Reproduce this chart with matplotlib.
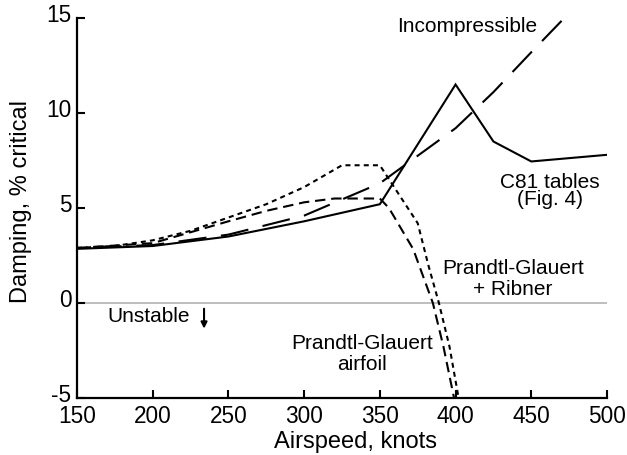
import matplotlib
matplotlib.use("Agg")
import matplotlib.pyplot as plt
from matplotlib.transforms import ScaledTranslation

plt.rcParams['font.family'] = ['Liberation Sans', 'DejaVu Sans']
plt.rcParams['axes.unicode_minus'] = False

# Damping vs airspeed for the four aerodynamic models
c81_x = [150, 200, 250, 300, 350, 400, 425, 450, 500]
c81_y = [2.85, 3.0, 3.5, 4.3, 5.2, 11.5, 8.5, 7.45, 7.8]

incomp_x = [150, 200, 250, 300, 350, 400, 425, 450, 470]
incomp_y = [2.9, 3.05, 3.6, 4.6, 6.3, 9.2, 11.1, 13.2, 14.85]

pg_airfoil_x = [150, 200, 250, 275, 300, 320, 350, 356, 372, 385, 392, 399]
pg_airfoil_y = [2.9, 3.15, 4.3, 4.85, 5.3, 5.5, 5.5, 5.0, 2.84, 0.0, -2.3, -5.0]

pg_ribner_x = [150, 175, 200, 225, 250, 275, 300, 325, 350, 375, 382, 389, 396, 402]
pg_ribner_y = [2.9, 3.0, 3.3, 3.8, 4.5, 5.2, 6.1, 7.25, 7.25, 4.2, 2.0, 0.0, -2.3, -5.0]

x_ticks = [150, 200, 250, 300, 350, 400, 450, 500]
y_ticks = [-5, 0, 5, 10, 15]

fig = plt.figure(figsize=(6.27, 4.56), dpi=100)
ax = fig.add_axes([0.1228, 0.125, 0.8453, 0.8333])

ax.axhline(0, color='#b3b3b3', lw=1.2, zorder=1)

lw = 1.5
ax.plot(c81_x, c81_y, color='black', lw=lw, solid_joinstyle='miter')
# drawn from the upper end so the dash pattern starts at the tip
ax.plot(incomp_x[::-1], incomp_y[::-1], color='black', lw=lw, dashes=(13.5, 7))
ax.plot(pg_airfoil_x, pg_airfoil_y, color='black', lw=lw, dashes=(5, 2.8))
ax.plot(pg_ribner_x, pg_ribner_y, color='black', lw=lw, dashes=(2.4, 2))

ax.set_xlim(150, 500)
ax.set_ylim(-5, 15)
ax.set_xticks(x_ticks)
ax.set_yticks(y_ticks)

for side in ('top', 'right'):
    ax.spines[side].set_visible(False)
for side in ('left', 'bottom'):
    ax.spines[side].set_linewidth(1.6)

ax.tick_params(direction='in', length=6, width=1.5, labelsize=16.3)
ax.tick_params(axis='x', pad=4.5)
ax.tick_params(axis='y', pad=4)

# lift the y tick labels slightly above their ticks
lift = ScaledTranslation(0, 4 / 72, fig.dpi_scale_trans)
for tick in ax.yaxis.get_major_ticks():
    tick.label1.set_transform(tick.label1.get_transform() + lift)

ax.set_xlabel('Airspeed, knots', fontsize=17, labelpad=2, x=0.5255)
ax.set_ylabel('Damping, % critical', fontsize=17, labelpad=10, y=0.52)

fs = 15
ax.text(407.6, 14.58, 'Incompressible', fontsize=fs, ha='center', va='center')
ax.text(462.4, 5.95, 'C81 tables\n(Fig. 4)', fontsize=fs, ha='center', va='center',
        linespacing=0.92)
ax.text(438, 1.32, 'Prandtl-Glauert\n+ Ribner', fontsize=fs, ha='center', va='center',
        linespacing=1.12)
ax.text(338.2, -2.63, 'Prandtl-Glauert\nairfoil', fontsize=fs, ha='center', va='center',
        linespacing=1.12)
ax.text(169.8, -0.68, 'Unstable', fontsize=fs, ha='left', va='center')
ax.annotate('', xy=(233.9, -1.35), xytext=(233.9, -0.3),
            arrowprops=dict(arrowstyle='-|>', color='black', lw=1.5,
                            mutation_scale=9, shrinkA=0, shrinkB=0))

fig.savefig('out.png', dpi=100)
